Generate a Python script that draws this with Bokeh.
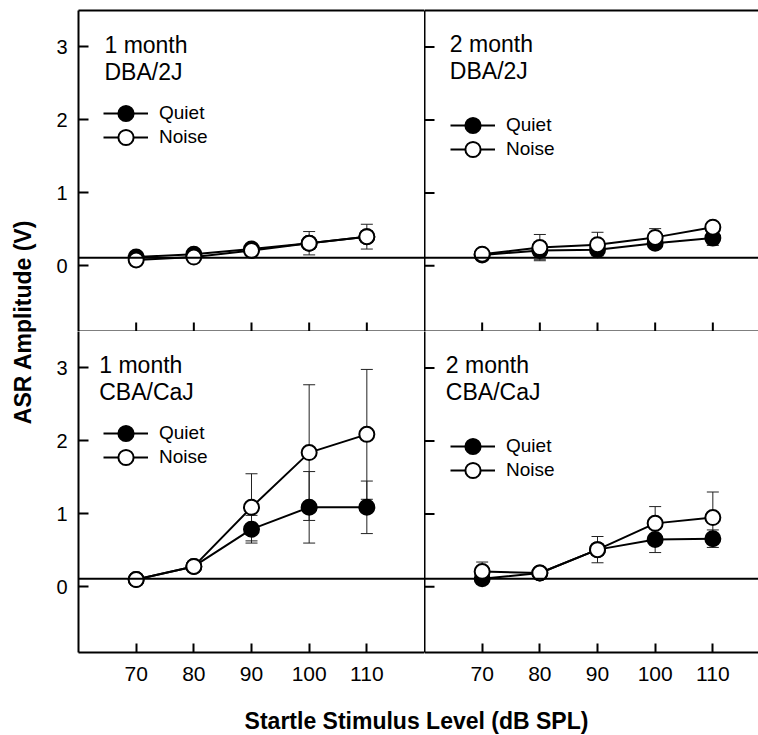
import math
from bokeh.plotting import figure
from bokeh.models import (Range1d, FixedTicker, LinearAxis, Span, Legend,
                          LegendItem, Label)
from bokeh.layouts import row, column
from bokeh.embed import file_html
from bokeh.resources import INLINE

# ---------------- data ----------------
levels = [70, 80, 90, 100, 110]
y_ticks = [0, 1, 2, 3]
baseline_level = 0.11

dba1_quiet = [0.12, 0.16, 0.23, 0.31, 0.40]
dba1_quiet_err = [0.02, 0.03, 0.05, 0.08, 0.08]
dba1_noise = [0.08, 0.12, 0.21, 0.31, 0.40]
dba1_noise_err = [0.02, 0.03, 0.05, 0.16, 0.17]

dba2_quiet = [0.15, 0.21, 0.22, 0.31, 0.38]
dba2_quiet_err = [0.03, 0.12, 0.07, 0.06, 0.10]
dba2_noise = [0.16, 0.25, 0.29, 0.39, 0.53]
dba2_noise_err = [0.03, 0.18, 0.17, 0.12, 0.06]

cba1_quiet = [0.10, 0.28, 0.79, 1.09, 1.09]
cba1_quiet_err = [0.02, 0.03, 0.19, 0.49, 0.36]
cba1_noise = [0.10, 0.28, 1.09, 1.84, 2.09]
cba1_noise_err = [0.02, 0.04, 0.46, 0.93, 0.89]

cba2_quiet = [0.11, 0.19, 0.51, 0.65, 0.66]
cba2_quiet_err = [0.03, 0.04, 0.05, 0.18, 0.12]
cba2_noise = [0.21, 0.19, 0.51, 0.87, 0.95]
cba2_noise_err = [0.13, 0.04, 0.18, 0.23, 0.35]

series_labels = ["Quiet", "Noise"]
x_title = "Startle Stimulus Level (dB SPL)"
y_title = "ASR Amplitude (V)"

# ---------------- style ----------------
FONT = "Liberation Sans"
FRAME_H = 321
FRAME_W_L = 346
FRAME_W_R = 334
X0, X1 = 60, 120
Y0, Y1 = -0.9, 3.5
PX_PER_X = FRAME_W_L / (X1 - X0)
PX_PER_Y = FRAME_H / (Y1 - Y0)
TOP_PAD = 10
BOTTOM_PAD = 49
YLAB_W = 48
LEFT_PAD = 30
TOTAL_H = 735
LABEL_SHIFT = 7  # px correction for label baseline placement


def style_axis(ax, tick_len, font_size, standoff):
    ax.axis_line_width = 2
    ax.axis_line_color = "black"
    ax.major_tick_line_width = 2
    ax.major_tick_line_color = "black"
    ax.major_tick_in = tick_len
    ax.major_tick_out = 0
    ax.minor_tick_in = 0
    ax.minor_tick_out = 0
    ax.major_label_text_font = FONT
    ax.major_label_text_font_size = font_size
    ax.major_label_text_color = "black"
    ax.major_label_standoff = standoff


def plain_axis():
    ax = LinearAxis(ticker=FixedTicker(ticks=[]))
    ax.axis_line_width = 2
    ax.axis_line_color = "black"
    ax.major_tick_in = 0
    ax.major_tick_out = 0
    ax.minor_tick_in = 0
    ax.minor_tick_out = 0
    ax.major_label_standoff = 0
    return ax


def make_panel(quiet, quiet_err, noise, noise_err, line1, line2,
               left, bottom, top, title_pos, legend_pos):
    fw = FRAME_W_L if left else FRAME_W_R
    x_end = X1 if left else X0 + FRAME_W_R / PX_PER_X
    p = figure(frame_width=fw, frame_height=FRAME_H,
               x_range=Range1d(X0, x_end), y_range=Range1d(Y0, Y1),
               output_backend="svg", toolbar_location=None,
               x_axis_location=None, y_axis_location=None,
               min_border_left=LEFT_PAD if left else 0,
               min_border_right=0,
               min_border_top=TOP_PAD if top else 0,
               min_border_bottom=BOTTOM_PAD if bottom else 0)
    p.outline_line_color = None
    p.background_fill_color = "white"
    p.border_fill_color = "white"

    # left axis
    if left:
        yax = LinearAxis(ticker=FixedTicker(ticks=y_ticks))
        style_axis(yax, 10, "20px", 11)
        p.add_layout(yax, "left")
    else:
        p.add_layout(plain_axis(), "left")
        p.segment(x0=[X0] * len(y_ticks), y0=y_ticks,
                  x1=[X0 + 10 / PX_PER_X] * len(y_ticks), y1=y_ticks,
                  line_color="black", line_width=2)
    # bottom axis
    if bottom:
        xax = LinearAxis(ticker=FixedTicker(ticks=levels))
        style_axis(xax, 9, "21px", 14)
        p.add_layout(xax, "below")
    else:
        p.add_layout(plain_axis(), "below")
        p.segment(x0=levels, y0=[Y0] * len(levels),
                  x1=levels, y1=[Y0 + 9 / PX_PER_Y] * len(levels),
                  line_color="black", line_width=2)
    if top:
        p.add_layout(plain_axis(), "above")

    p.add_layout(Span(location=baseline_level, dimension="width",
                      line_color="black", line_width=2))

    # error bars
    for vals, errs in ((quiet, quiet_err), (noise, noise_err)):
        lo = [v - e for v, e in zip(vals, errs)]
        hi = [v + e for v, e in zip(vals, errs)]
        p.segment(x0=levels, y0=lo, x1=levels, y1=hi,
                  line_color="#222222", line_width=1)
        p.scatter(levels, lo, marker="dash", size=12,
                  line_color="#222222", line_width=1)
        p.scatter(levels, hi, marker="dash", size=12,
                  line_color="#222222", line_width=1)

    ql = p.line(levels, quiet, line_color="black", line_width=2)
    nl = p.line(levels, noise, line_color="black", line_width=2)
    qm = p.scatter(levels, quiet, size=15, fill_color="black",
                   line_color="black", line_width=2)
    nm = p.scatter(levels, noise, size=15, fill_color="white",
                   line_color="black", line_width=2)

    for lab, rends, pos in ((series_labels[0], [ql, qm], legend_pos[0]),
                            (series_labels[1], [nl, nm], legend_pos[1])):
        lg = Legend(items=[LegendItem(label=lab, renderers=rends)],
                    location=pos, padding=0, margin=0, spacing=0,
                    glyph_width=45, glyph_height=38, label_standoff=11,
                    label_text_font=FONT, label_text_font_size="19px",
                    label_text_color="black",
                    background_fill_alpha=0, border_line_alpha=0)
        p.add_layout(lg)

    tx, ty1, ty2 = title_pos
    dy = LABEL_SHIFT / PX_PER_Y
    for txt, ty in ((line1, ty1), (line2, ty2)):
        p.add_layout(Label(x=tx, y=ty + dy, text=txt, text_font=FONT,
                           text_font_size="23px", text_color="black",
                           text_baseline="alphabetic", text_align="left"))
    p.grid.visible = False
    return p


tl = make_panel(dba1_quiet, dba1_quiet_err, dba1_noise, dba1_noise_err,
                "1 month", "DBA/2J", True, False, True,
                (64.5, 2.93, 2.565), [(25, 199), (25, 175)])
tr = make_panel(dba2_quiet, dba2_quiet_err, dba2_noise, dba2_noise_err,
                "2 month", "DBA/2J", False, False, True,
                (64.4, 2.95, 2.58), [(26, 187), (26, 163)])
bl = make_panel(cba1_quiet, cba1_quiet_err, cba1_noise, cba1_noise_err,
                "1 month", "CBA/CaJ", True, True, False,
                (63.6, 2.95, 2.578), [(25, 200), (25, 176)])
br = make_panel(cba2_quiet, cba2_quiet_err, cba2_noise, cba2_noise_err,
                "2 month", "CBA/CaJ", False, True, False,
                (63.7, 2.94, 2.58), [(26, 187), (26, 163)])

GRID_H = TOP_PAD + FRAME_H + FRAME_H + BOTTOM_PAD

ylab = figure(frame_width=YLAB_W, frame_height=GRID_H,
              x_range=Range1d(0, YLAB_W), y_range=Range1d(0, GRID_H),
              output_backend="svg", toolbar_location=None,
              x_axis_location=None, y_axis_location=None,
              min_border=0)
ylab.outline_line_color = None
ylab.grid.visible = False
ylab.add_layout(Label(x=22, y=GRID_H - 321.5, text=y_title,
                      angle=math.pi / 2,
                      text_font=FONT, text_font_size="23px",
                      text_font_style="bold", text_color="black",
                      text_align="center", text_baseline="alphabetic"))

XLAB_H = TOTAL_H - GRID_H
XLAB_W = YLAB_W + LEFT_PAD + FRAME_W_L + FRAME_W_R
xlab = figure(frame_width=XLAB_W, frame_height=XLAB_H,
              x_range=Range1d(0, XLAB_W), y_range=Range1d(0, XLAB_H),
              output_backend="svg", toolbar_location=None,
              x_axis_location=None, y_axis_location=None,
              min_border=0)
xlab.outline_line_color = None
xlab.grid.visible = False
xlab.add_layout(Label(x=416, y=XLAB_H - 26.5 + LABEL_SHIFT, text=x_title,
                      text_font=FONT, text_font_size="23px",
                      text_font_style="bold", text_color="black",
                      text_align="center", text_baseline="alphabetic"))

layout = column(row(ylab, column(row(tl, tr), row(bl, br))), xlab)

open("out.html", "w").write(file_html(layout, INLINE))
